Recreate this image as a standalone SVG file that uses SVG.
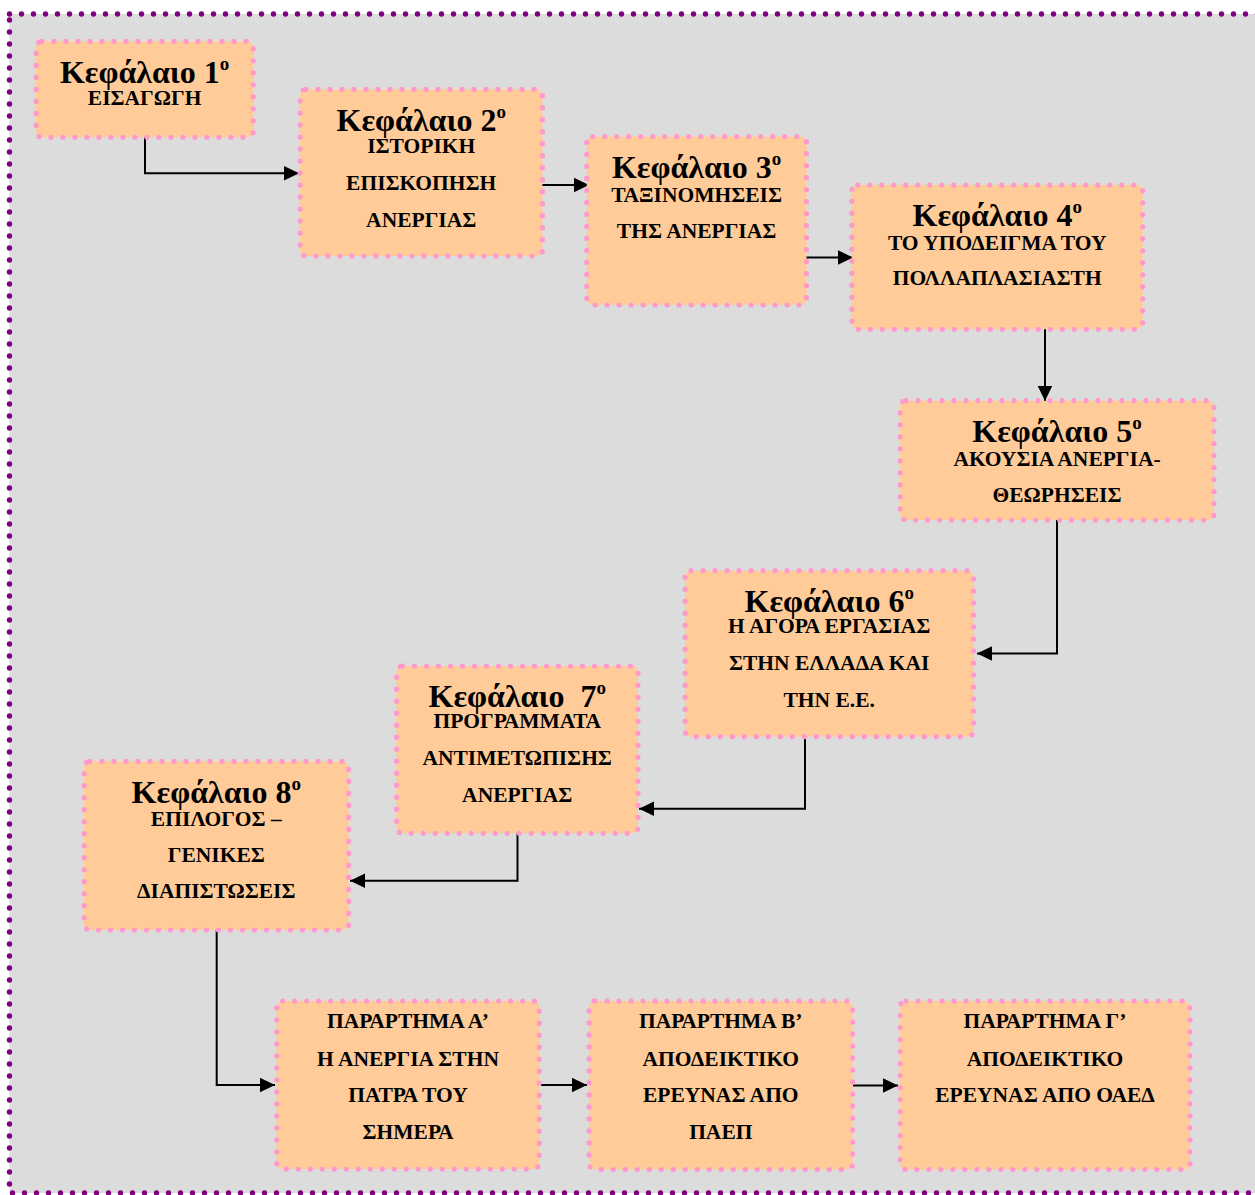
<svg xmlns="http://www.w3.org/2000/svg" width="1255" height="1195" viewBox="0 0 1255 1195">
<defs>
<style>
.frame{fill:#DCDCDC;stroke:#800080;stroke-width:5.4;stroke-dasharray:0 12;stroke-linecap:round}
.node{fill:#FFCC99;stroke:#FF99CC;stroke-width:5.2;stroke-dasharray:0 12;stroke-linecap:round}
.t{font-family:"Liberation Serif","Times New Roman",serif;font-weight:bold;fill:#000;text-anchor:middle}
.ti{font-size:32px}
.su{font-size:19px}
.s{font-size:21.5px}
.conn{fill:none;stroke:#000;stroke-width:2}
</style>
<marker id="ah" markerUnits="userSpaceOnUse" markerWidth="16" markerHeight="16" viewBox="0 0 16 16" refX="15" refY="8" orient="auto">
<path d="M0,0.8 L15,8 L0,15.2 Z" fill="#000"/>
</marker>
</defs>
<rect x="0" y="0" width="1255" height="1195" fill="#FFFFFF"/>
<rect class="frame" x="9.5" y="14" width="1260" height="1179"/>

<g id="connectors">
<path class="conn" marker-end="url(#ah)" d="M145,137 V173.3 H299"/>
<path class="conn" marker-end="url(#ah)" d="M541,185 H589"/>
<path class="conn" marker-end="url(#ah)" d="M806,257.5 H853"/>
<path class="conn" marker-end="url(#ah)" d="M1045,329 V401"/>
<path class="conn" marker-end="url(#ah)" d="M1057,520 V653.5 H977"/>
<path class="conn" marker-end="url(#ah)" d="M805,737 V808.7 H639"/>
<path class="conn" marker-end="url(#ah)" d="M517.5,833 V880.7 H350"/>
<path class="conn" marker-end="url(#ah)" d="M216.7,930 V1085 H275"/>
<path class="conn" marker-end="url(#ah)" d="M541,1085 H587"/>
<path class="conn" marker-end="url(#ah)" d="M853,1085.5 H898"/>
</g>

<g id="n1">
<rect class="node" x="36" y="41.3" width="217.3" height="96" rx="6"/>
<text class="t ti" x="144.6" y="82.7">Κεφάλαιο 1<tspan class="su" dy="-13">ο</tspan></text>
<text class="t s" x="144.6" y="105">ΕΙΣΑΓΩΓΗ</text>
</g>

<g id="n2">
<rect class="node" x="300" y="89.3" width="242.4" height="166.7" rx="6"/>
<text class="t ti" x="421.2" y="130.7">Κεφάλαιο 2<tspan class="su" dy="-13">ο</tspan></text>
<text class="t s" x="421.2" y="153.3">ΙΣΤΟΡΙΚΗ</text>
<text class="t s" x="421.2" y="190">ΕΠΙΣΚΟΠΗΣΗ</text>
<text class="t s" x="421.2" y="226.7">ΑΝΕΡΓΙΑΣ</text>
</g>

<g id="n3">
<rect class="node" x="586.8" y="136.5" width="219.7" height="168.5" rx="6"/>
<text class="t ti" x="696.6" y="178.3">Κεφάλαιο 3<tspan class="su" dy="-13">ο</tspan></text>
<text class="t s" x="696.6" y="201.7">ΤΑΞΙΝΟΜΗΣΕΙΣ</text>
<text class="t s" x="696.6" y="238.3">ΤΗΣ ΑΝΕΡΓΙΑΣ</text>
</g>

<g id="n4">
<rect class="node" x="851.7" y="185" width="291" height="144.3" rx="6"/>
<text class="t ti" x="997.2" y="226">Κεφάλαιο 4<tspan class="su" dy="-13">ο</tspan></text>
<text class="t s" x="997.2" y="250">ΤΟ ΥΠΟΔΕΙΓΜΑ ΤΟΥ</text>
<text class="t s" x="997.2" y="285">ΠΟΛΛΑΠΛΑΣΙΑΣΤΗ</text>
</g>

<g id="n5">
<rect class="node" x="900" y="400.7" width="314" height="119.3" rx="6"/>
<text class="t ti" x="1057" y="441.7">Κεφάλαιο 5<tspan class="su" dy="-13">ο</tspan></text>
<text class="t s" x="1057" y="466">ΑΚΟΥΣΙΑ ΑΝΕΡΓΙΑ-</text>
<text class="t s" x="1057" y="501.7">ΘΕΩΡΗΣΕΙΣ</text>
</g>

<g id="n6">
<rect class="node" x="685" y="570.7" width="288.5" height="166" rx="6"/>
<text class="t ti" x="829.2" y="611.7">Κεφάλαιο 6<tspan class="su" dy="-13">ο</tspan></text>
<text class="t s" x="829.2" y="633.3">Η ΑΓΟΡΑ ΕΡΓΑΣΙΑΣ</text>
<text class="t s" x="829.2" y="670">ΣΤΗΝ ΕΛΛΑΔΑ ΚΑΙ</text>
<text class="t s" x="829.2" y="706.7">ΤΗΝ Ε.Ε.</text>
</g>

<g id="n7">
<rect class="node" x="396.5" y="666" width="241.5" height="167.3" rx="6"/>
<text class="t ti" x="517.2" y="706.7">Κεφάλαιο &#160;7<tspan class="su" dy="-13">ο</tspan></text>
<text class="t s" x="517.2" y="728.3">ΠΡΟΓΡΑΜΜΑΤΑ</text>
<text class="t s" x="517.2" y="765">ΑΝΤΙΜΕΤΩΠΙΣΗΣ</text>
<text class="t s" x="517.2" y="801.7">ΑΝΕΡΓΙΑΣ</text>
</g>

<g id="n8">
<rect class="node" x="84" y="761.3" width="264.7" height="168.7" rx="6"/>
<text class="t ti" x="216.3" y="803.3">Κεφάλαιο 8<tspan class="su" dy="-13">ο</tspan></text>
<text class="t s" x="216.3" y="826">ΕΠΙΛΟΓΟΣ –</text>
<text class="t s" x="216.3" y="861.7">ΓΕΝΙΚΕΣ</text>
<text class="t s" x="216.3" y="898.3">ΔΙΑΠΙΣΤΩΣΕΙΣ</text>
</g>

<g id="pa">
<rect class="node" x="276.7" y="1001" width="262.6" height="168" rx="6"/>
<text class="t s" x="408" y="1028.3">ΠΑΡΑΡΤΗΜΑ Α’</text>
<text class="t s" x="408" y="1065.7">Η ΑΝΕΡΓΙΑ ΣΤΗΝ</text>
<text class="t s" x="408" y="1102.3">ΠΑΤΡΑ ΤΟΥ</text>
<text class="t s" x="408" y="1139">ΣΗΜΕΡΑ</text>
</g>

<g id="pb">
<rect class="node" x="589" y="1001" width="263.7" height="168.5" rx="6"/>
<text class="t s" x="720.8" y="1028.3">ΠΑΡΑΡΤΗΜΑ Β’</text>
<text class="t s" x="720.8" y="1065.7">ΑΠΟΔΕΙΚΤΙΚΟ</text>
<text class="t s" x="720.8" y="1102.3">ΕΡΕΥΝΑΣ ΑΠΟ</text>
<text class="t s" x="720.8" y="1139">ΠΑΕΠ</text>
</g>

<g id="pc">
<rect class="node" x="900" y="1001" width="290" height="168.5" rx="6"/>
<text class="t s" x="1045" y="1028.3">ΠΑΡΑΡΤΗΜΑ Γ’</text>
<text class="t s" x="1045" y="1065.7">ΑΠΟΔΕΙΚΤΙΚΟ</text>
<text class="t s" x="1045" y="1102.3">ΕΡΕΥΝΑΣ ΑΠΟ ΟΑΕΔ</text>
</g>
</svg>
